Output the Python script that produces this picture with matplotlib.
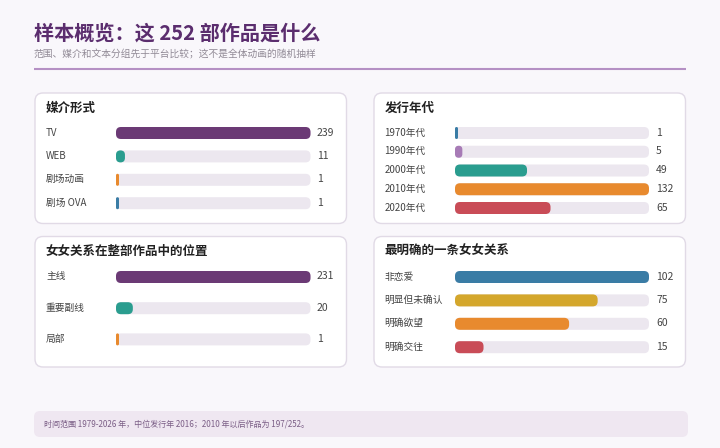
import matplotlib
matplotlib.use("Agg")
import matplotlib.pyplot as plt
from matplotlib.patches import FancyBboxPatch
from matplotlib.transforms import blended_transform_factory

plt.rcParams["font.family"] = ["Noto Sans CJK SC", "DejaVu Sans"]

# data
media_labels = ["TV", "WEB", "剧场动画", "剧场 OVA"]
media_values = [239, 11, 1, 1]

decade_labels = ["1970年代", "1990年代", "2000年代", "2010年代", "2020年代"]
decade_values = [1, 5, 49, 132, 65]

role_labels = ["主线", "重要副线", "局部"]
role_values = [231, 20, 1]

relation_labels = ["非恋爱", "明显但未确认", "明确欲望", "明确交往"]
relation_values = [102, 75, 60, 15]

PURPLE = "#6b3a75"
TEAL = "#2a9d8f"
ORANGE = "#e88a2e"
BLUE = "#3a7ca5"
LILAC = "#a77bb6"
RED = "#c94c57"
YELLOW = "#d4a72c"
TRACK = "#ece7ef"
BG = "#f9f7fb"

W, H = 720, 448
fig = plt.figure(figsize=(W / 100, H / 100), dpi=100, facecolor=BG)

# full-figure pixel axes for the frame pieces
bg = fig.add_axes([0, 0, 1, 1])
bg.set_xlim(0, W)
bg.set_ylim(H, 0)
bg.axis("off")

bg.text(34, 33.5, "样本概览：这 252 部作品是什么", fontsize=14.5, fontweight="bold",
        color="#5b2d6e", va="center", ha="left")
bg.text(34, 54, "范围、媒介和文本分组先于平台比较；这不是全体动画的随机抽样",
        fontsize=7, color="#918a96", va="center", ha="left")
bg.plot([34, 686], [69.5, 69.5], color="#b590c4", lw=1.5, solid_capstyle="butt")

panels = [
    # (x0, y0, x1, y1, title)
    (35, 93, 346.5, 223.5, "媒介形式"),
    (374, 93, 685.5, 223.5, "发行年代"),
    (35, 236.5, 346.5, 367, "女女关系在整部作品中的位置"),
    (374, 236.5, 685.5, 367, "最明确的一条女女关系"),
]
for x0, y0, x1, y1, title in panels:
    bg.add_patch(FancyBboxPatch((x0, y0), x1 - x0, y1 - y0,
                                boxstyle="round,pad=0,rounding_size=8",
                                facecolor="white", edgecolor="#e1dae6", lw=1))
    bg.text(x0 + 11, y0 + 15, title, fontsize=9, fontweight="bold",
            color="#222222", va="center", ha="left")

# footer note
bg.add_patch(FancyBboxPatch((34, 411), 654, 26, boxstyle="round,pad=0,rounding_size=6",
                            facecolor="#efe7f1", edgecolor="none"))
bg.text(44, 424, "时间范围 1979-2026 年，中位发行年 2016；2010 年以后作品为 197/252。",
        fontsize=5.8, color="#7b5e86", va="center", ha="left")


def bar_panel(labels, values, colors, bar_x0, bar_x1, first_y, step, label_x, value_x):
    n = len(values)
    vmax = max(values)
    top = first_y - step / 2
    height = step * n
    ax = fig.add_axes([bar_x0 / W, 1 - (top + height) / H,
                       (bar_x1 - bar_x0) / W, height / H])
    ax.set_xlim(0, vmax)
    ax.set_ylim(n - 0.5, -0.5)
    ax.axis("off")

    px_x = (bar_x1 - bar_x0) / vmax      # pixels per x unit
    bar_h = 12 / step                     # bar thickness in y units
    aspect = px_x / step                  # keeps corners circular
    radius_px = 5

    for i, (v, c) in enumerate(zip(values, colors)):
        ax.add_patch(FancyBboxPatch((0, i - bar_h / 2), vmax, bar_h,
                                    boxstyle=f"round,pad=0,rounding_size={radius_px / px_x}",
                                    mutation_aspect=aspect, facecolor=TRACK,
                                    edgecolor="none", clip_on=False))
        w = max(v, 3 / px_x)
        r = min(radius_px, w * px_x / 2) / px_x
        ax.add_patch(FancyBboxPatch((0, i - bar_h / 2), w, bar_h,
                                    boxstyle=f"round,pad=0,rounding_size={r}",
                                    mutation_aspect=aspect, facecolor=c,
                                    edgecolor="none", clip_on=False, zorder=3))

    tr = blended_transform_factory(fig.transFigure, ax.transData)
    for i, (lab, v) in enumerate(zip(labels, values)):
        ax.text(label_x / W, i - 0.02, lab, transform=tr, fontsize=7,
                color="#444444", va="center", ha="left")
        ax.text(value_x / W, i - 0.02, str(v), transform=tr, fontsize=7.5,
                color="#444444", va="center", ha="left")
    return ax


bar_panel(media_labels, media_values, [PURPLE, TEAL, ORANGE, BLUE],
          116, 310.5, 133, 23.4, 46, 317)
bar_panel(decade_labels, decade_values, [BLUE, LILAC, TEAL, ORANGE, RED],
          455, 649, 133, 18.75, 384.5, 656)
bar_panel(role_labels, role_values, [PURPLE, TEAL, ORANGE],
          116, 310.5, 277, 31.2, 46, 317)
bar_panel(relation_labels, relation_values, [BLUE, YELLOW, ORANGE, RED],
          455, 649, 277, 23.4, 384.5, 656)

fig.savefig("out.png", dpi=100, facecolor=BG)
